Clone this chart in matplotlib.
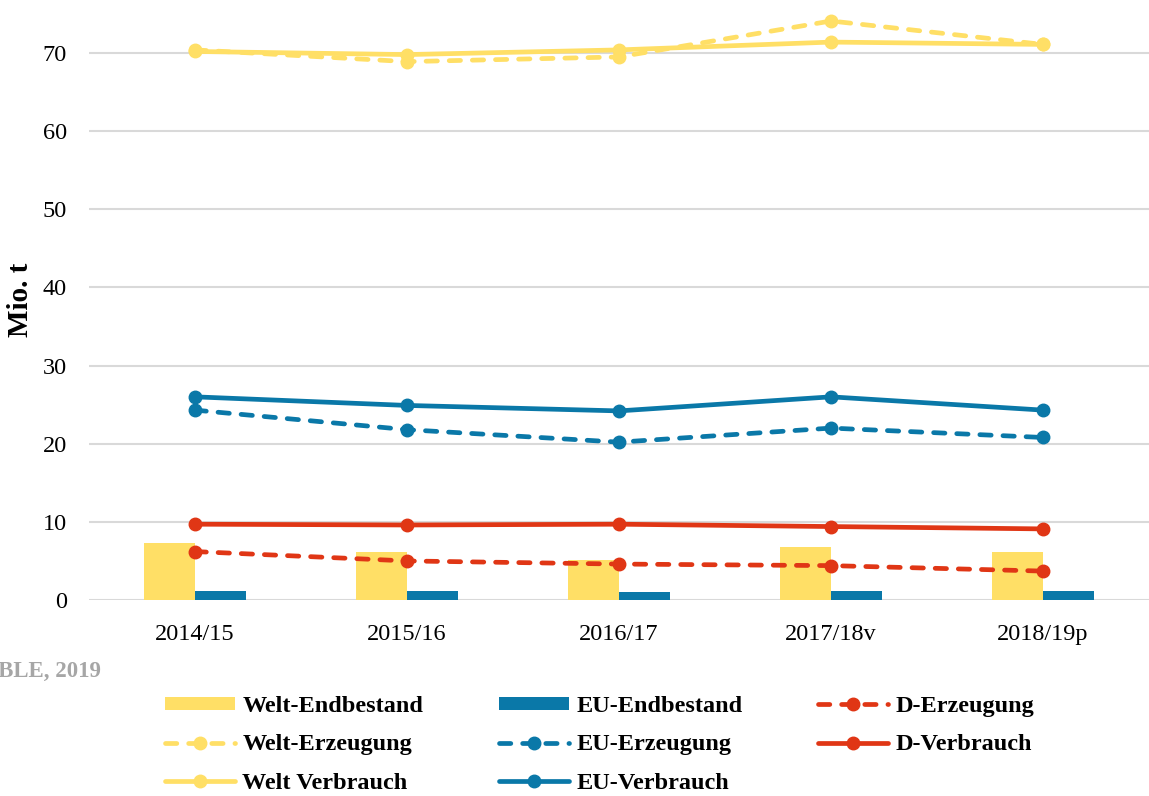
import numpy as np
import matplotlib
matplotlib.use("Agg")
import matplotlib.pyplot as plt

# -----------------------------
# Daten (Mio. t)
# -----------------------------
jahre = ["2014/15", "2015/16", "2016/17", "2017/18v", "2018/19p"]

welt_endbestand = [7.3, 6.1, 5.1, 6.8, 6.1]
eu_endbestand = [1.1, 1.1, 1.0, 1.1, 1.1]

welt_erzeugung = [70.4, 68.9, 69.5, 74.1, 71.1]
welt_verbrauch = [70.2, 69.8, 70.4, 71.4, 71.1]

eu_erzeugung = [24.3, 21.8, 20.2, 22.0, 20.8]
eu_verbrauch = [26.0, 24.9, 24.2, 26.0, 24.3]

d_erzeugung = [6.2, 5.0, 4.6, 4.4, 3.7]
d_verbrauch = [9.7, 9.6, 9.7, 9.4, 9.1]

GELB = "#FFDF66"
BLAU = "#0A78A8"
ROT = "#E03615"

plt.rcParams["font.family"] = ["Liberation Serif", "DejaVu Serif"]

fig = plt.figure(figsize=(11.49, 7.96), dpi=100)
ax = fig.add_axes([89 / 1149, 1 - 600 / 796, 1 - 89 / 1149, 600 / 796])

x = np.arange(len(jahre))
bw = 0.24

# Balken: Endbestände
b1 = ax.bar(x - bw / 2, welt_endbestand, bw, color=GELB, zorder=2)
b2 = ax.bar(x + bw / 2, eu_endbestand, bw, color=BLAU, zorder=2)

lw = 3.4
ms = 9
dash = dict(linestyle=(0, (2.4, 2.5)), dash_capstyle="round")


def linie(werte, farbe, gestrichelt):
    kw = dict(color=farbe, lw=lw, marker="o", ms=ms, zorder=3,
              solid_capstyle="round")
    if gestrichelt:
        kw.update(dash)
    return ax.plot(x, werte, **kw)[0]


l_d_erz = linie(d_erzeugung, ROT, True)
l_d_ver = linie(d_verbrauch, ROT, False)
l_eu_erz = linie(eu_erzeugung, BLAU, True)
l_eu_ver = linie(eu_verbrauch, BLAU, False)
l_w_erz = linie(welt_erzeugung, GELB, True)
l_w_ver = linie(welt_verbrauch, GELB, False)

ax.set_xlim(-0.5, len(jahre) - 0.5)
ax.set_ylim(0, 600 / 7.814)
ax.set_yticks(range(0, 80, 10))
ax.set_xticks(x)
ax.set_xticklabels(jahre)
ax.tick_params(length=0, labelsize=17.5)
ax.tick_params(axis="x", pad=17)
ax.tick_params(axis="y", pad=16)
ax.yaxis.grid(True, color="#D9D9D9", lw=1.5, zorder=0)
for s in ax.spines.values():
    s.set_visible(False)
ax.set_ylabel("Mio. t", fontsize=21, fontweight="bold", labelpad=6)

# Quelle (links abgeschnitten)
fig.text(101 / 1149, 1 - 671 / 796, "Quelle: BLE, 2019", ha="right",
         va="center", fontsize=16.5, fontweight="bold", color="#A6A6A6")

# Legende
handles = [b1, l_w_erz, l_w_ver, b2, l_eu_erz, l_eu_ver, l_d_erz, l_d_ver]
labels = ["Welt-Endbestand", "Welt-Erzeugung", "Welt Verbrauch",
          "EU-Endbestand", "EU-Erzeugung", "EU-Verbrauch",
          "D-Erzeugung", "D-Verbrauch"]
leg = fig.legend(handles, labels, ncol=3, loc="upper left",
                 bbox_to_anchor=(155 / 1149, 1 - 686 / 796), frameon=False,
                 prop=dict(size=17.5, weight="bold"), handlelength=2.9,
                 handleheight=0.45, handletextpad=0.3, columnspacing=3.1,
                 labelspacing=0.72, borderaxespad=0)

fig.savefig("out.png", dpi=100)
